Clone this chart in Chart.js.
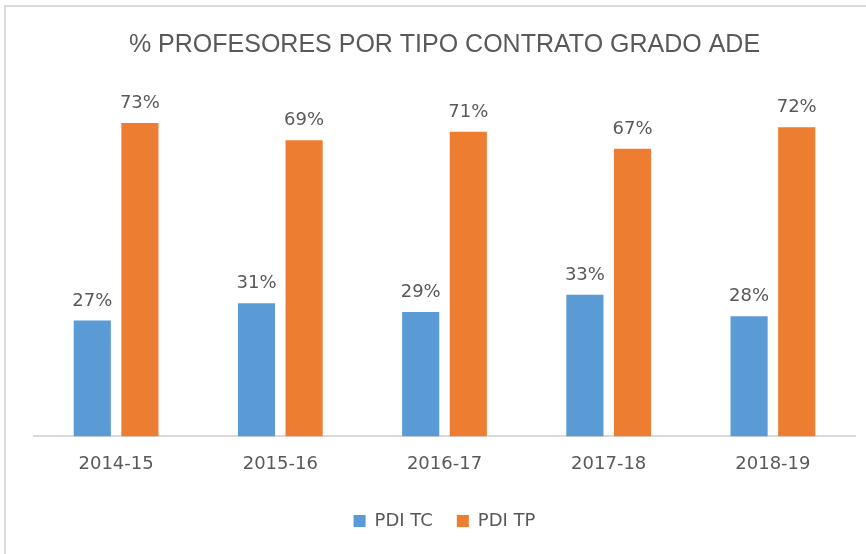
<!DOCTYPE html>
<html>
<head>
<meta charset="utf-8">
<script src="https://cdn.jsdelivr.net/npm/chart.js@4"></script>
<style>
  body { margin: 0; background: #fff; }
  #frame {
    position: absolute; left: 4px; top: 5px; width: 870px; height: 560px;
    border-top: 2px solid #d9d9d9; border-left: 2px solid #d9d9d9;
  }
  #chart { position: absolute; left: 0; top: 0; }
</style>
</head>
<body>
<div id="frame"></div>
<canvas id="chart" width="866" height="554"></canvas>
<script>
const years = ['2014-15', '2015-16', '2016-17', '2017-18', '2018-19'];
const pdiTC = [27, 31, 29, 33, 28];
const pdiTP = [73, 69, 71, 67, 72];

const grey = '#595959';

// Chart.js has no data labels built in, so draw them from each bar's position
const barLabels = {
    id: 'barLabels',
    afterDatasetsDraw(chart) {
        const ctx = chart.ctx;
        ctx.save();
        ctx.font = '18px "DejaVu Sans"';
        ctx.fillStyle = grey;
        ctx.textAlign = 'center';
        ctx.textBaseline = 'alphabetic';
        chart.data.datasets.forEach((ds, i) => {
            chart.getDatasetMeta(i).data.forEach((bar, j) => {
                ctx.fillText(ds.data[j] + '%', bar.x, bar.y - 15);
            });
        });
        ctx.restore();
    }
};

new Chart(document.getElementById('chart'), {
    type: 'bar',
    data: {
        labels: years,
        datasets: [{
            label: 'PDI TC',
            data: pdiTC,
            backgroundColor: '#5B9BD5',
            categoryPercentage: 0.58,
            barPercentage: 0.78,
        }, {
            label: 'PDI TP',
            data: pdiTP,
            backgroundColor: '#ED7D31',
            categoryPercentage: 0.58,
            barPercentage: 0.78,
        }]
    },
    options: {
        responsive: false,
        animation: false,
        layout: {
            padding: { left: 34, right: 11, top: 0, bottom: 14 }
        },
        scales: {
            x: {
                grid: { display: false, drawTicks: false },
                border: { color: '#d9d9d9', width: 2 },
                ticks: {
                    color: grey,
                    padding: 17,
                    font: { family: '"DejaVu Sans"', size: 18 }
                },
                afterFit: function (scale) {
                    scale.height -= 4;
                }
            },
            y: {
                display: false,
                min: 0,
                max: 80
            }
        },
        plugins: {
            title: {
                display: true,
                text: '% PROFESORES POR TIPO CONTRATO GRADO ADE',
                color: grey,
                font: { family: '"Liberation Sans", Arial, sans-serif', size: 25, weight: 'normal' },
                padding: { top: 30, bottom: 33 }
            },
            legend: {
                position: 'bottom',
                labels: {
                    color: grey,
                    boxWidth: 12,
                    boxHeight: 12,
                    padding: 24,
                    font: { family: '"DejaVu Sans"', size: 18 }
                }
            },
            tooltip: { enabled: false }
        }
    },
    plugins: [barLabels]
});
</script>
</body>
</html>
